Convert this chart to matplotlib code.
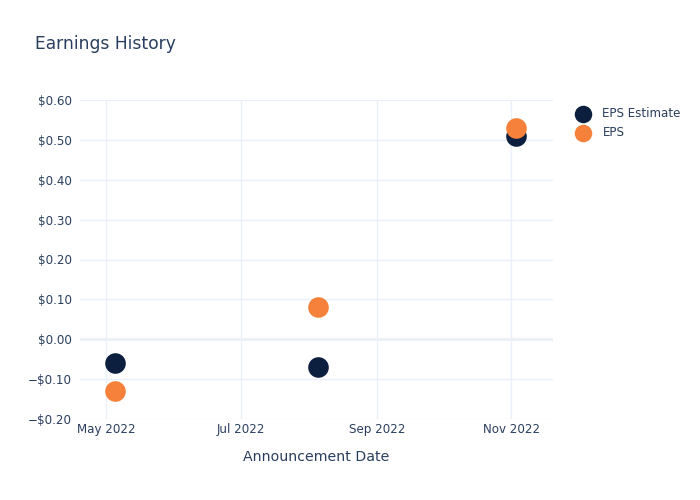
import pandas as pd
import matplotlib.pyplot as plt
import matplotlib.dates as mdates
from matplotlib.ticker import FuncFormatter, MultipleLocator

# Datos
fechas = pd.to_datetime(["2022-05-05", "2022-08-05", "2022-11-03"])
eps_estimate = [-0.06, -0.07, 0.51]
eps_real = [-0.13, 0.08, 0.53]

color_texto = "#2a3f5f"
color_grid = "#ebf0f8"
color_est = "#0d1f3e"
color_eps = "#f5813a"

fig = plt.figure(figsize=(7, 5), dpi=100)
ax = fig.add_axes([80 / 700, 1 - 419 / 500, (553 - 80) / 700, (419 - 100) / 500])

ax.scatter(fechas, eps_estimate, s=220, color=color_est, label="EPS Estimate", zorder=3, linewidths=0)
ax.scatter(fechas, eps_real, s=220, color=color_eps, label="EPS", zorder=4, linewidths=0)

ax.set_xlim(pd.Timestamp("2022-04-19"), pd.Timestamp("2022-11-20"))
ax.set_ylim(-0.2, 0.6)

ax.xaxis.set_major_locator(mdates.MonthLocator(bymonth=[5, 7, 9, 11]))
ax.xaxis.set_major_formatter(mdates.DateFormatter("%b %Y"))
ax.yaxis.set_major_locator(MultipleLocator(0.1))
ax.yaxis.set_major_formatter(FuncFormatter(
    lambda v, p: ("\u2212$%.2f" % abs(v)) if v < -1e-9 else "$%.2f" % abs(v)))

ax.grid(True, color=color_grid, linewidth=1)
ax.axhline(0, color=color_grid, linewidth=2, zorder=1)
ax.set_axisbelow(True)
for s in ax.spines.values():
    s.set_visible(False)
ax.tick_params(length=0, labelsize=8.6, colors=color_texto, pad=6)
ax.tick_params(axis="x", pad=3)

ax.set_xlabel("Announcement Date", fontsize=10.2, color=color_texto, labelpad=10)
fig.text(35 / 700, 1 - 44 / 500, "Earnings History", fontsize=12.3, color=color_texto, va="center")

leg = fig.legend(loc="upper left", bbox_to_anchor=(566 / 700, 1 - 102 / 500), frameon=False,
                 fontsize=8.6, labelcolor=color_texto, handletextpad=0.65, labelspacing=0.55,
                 markerscale=0.85, borderaxespad=0)

fig.savefig("out.png", dpi=100, facecolor="white")
